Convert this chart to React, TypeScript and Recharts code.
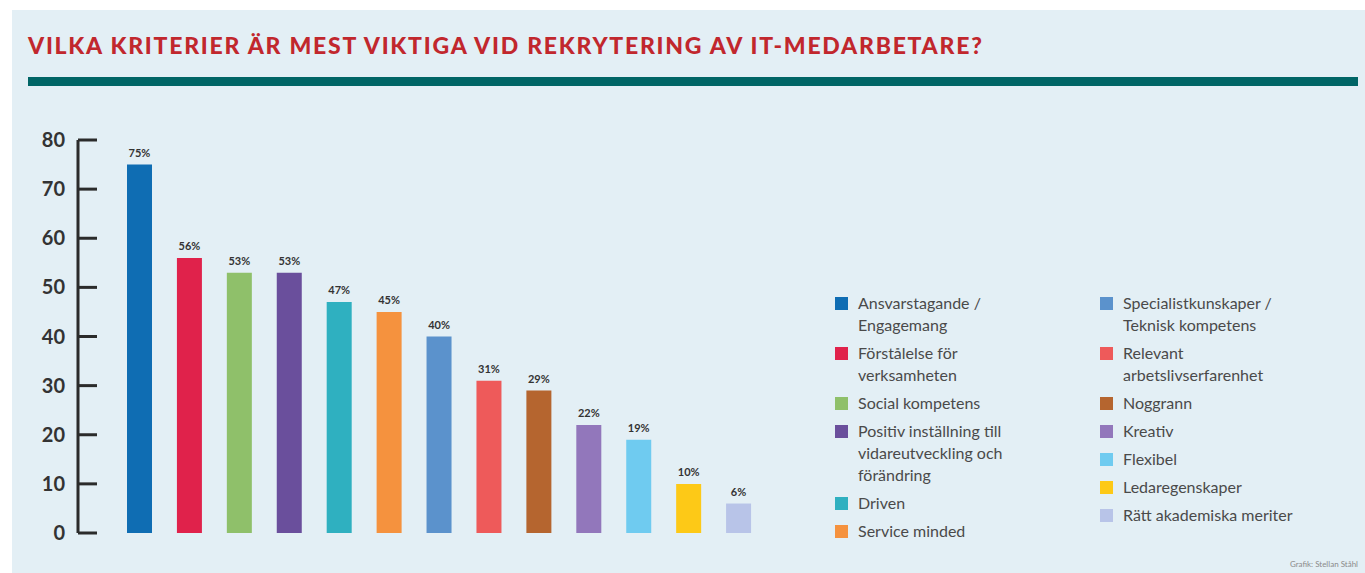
import { BarChart, Bar, XAxis, YAxis, Cell, LabelList } from "recharts";

const categories = [
  "Ansvarstagande / Engagemang",
  "Förstålelse för verksamheten",
  "Social kompetens",
  "Positiv inställning till vidareutveckling och förändring",
  "Driven",
  "Service minded",
  "Specialistkunskaper / Teknisk kompetens",
  "Relevant arbetslivserfarenhet",
  "Noggrann",
  "Kreativ",
  "Flexibel",
  "Ledaregenskaper",
  "Rätt akademiska meriter",
];
const values = [75, 56, 53, 53, 47, 45, 40, 31, 29, 22, 19, 10, 6];
const colors = [
  "#0f6db3",
  "#e0224b",
  "#8fc06a",
  "#6a4f9c",
  "#2fb0c0",
  "#f5923e",
  "#5b92cc",
  "#ee5a5a",
  "#b5652f",
  "#9277bb",
  "#6fcbf0",
  "#fdc917",
  "#b8c4e8",
];
const yTicks = [0, 10, 20, 30, 40, 50, 60, 70, 80];

// legend lines (wrapped like in the print graphic)
const legendLeft = [
  ["Ansvarstagande /", "Engagemang"],
  ["Förstålelse för", "verksamheten"],
  ["Social kompetens"],
  ["Positiv inställning till", "vidareutveckling och", "förändring"],
  ["Driven"],
  ["Service minded"],
];
const legendRight = [
  ["Specialistkunskaper /", "Teknisk kompetens"],
  ["Relevant", "arbetslivserfarenhet"],
  ["Noggrann"],
  ["Kreativ"],
  ["Flexibel"],
  ["Ledaregenskaper"],
  ["Rätt akademiska meriter"],
];

const data = categories.map((name, i) => ({ name, value: values[i] }));

const AXIS = "#2b2b2b";

const YTick = (props: any) => {
  const { x, y, payload } = props;
  return (
    <g>
      <line x1={x} x2={x + 19} y1={y} y2={y} stroke={AXIS} strokeWidth={3} />
      <text
        x={x - 13}
        y={y}
        dy={7}
        textAnchor="end"
        fill="#333"
        fontSize={20}
        fontWeight={700}
        fontFamily="Lato, sans-serif"
      >
        {payload.value}
      </text>
    </g>
  );
};

function LegendColumn({ items, offset, left }: { items: string[][]; offset: number; left: number }) {
  return (
    <div style={{ position: "absolute", left, top: 292 }}>
      {items.map((lines, i) => (
        <div key={i} style={{ display: "flex", marginBottom: 6 }}>
          <div
            style={{
              width: 13,
              height: 13,
              background: colors[offset + i],
              marginTop: 5,
              marginRight: 10,
              flex: "none",
            }}
          />
          <div style={{ lineHeight: "22px", fontSize: 16, color: "#4a4a4a" }}>
            {lines.map((l, j) => (
              <div key={j}>{l}</div>
            ))}
          </div>
        </div>
      ))}
    </div>
  );
}

export default function App() {
  return (
    <div
      style={{
        position: "absolute",
        left: 0,
        top: 0,
        width: 1365,
        height: 573,
        background: "#fff",
        overflow: "hidden",
        fontFamily: "Lato, sans-serif",
      }}
    >
      <div
        style={{
          position: "absolute",
          left: 12,
          top: 10,
          width: 1353,
          height: 563,
          background: "#e3eff5",
        }}
      />
      <div
        style={{
          position: "absolute",
          left: 28,
          top: 31,
          color: "#c1272d",
          fontSize: 23,
          fontWeight: 900,
          letterSpacing: 1.75,
          whiteSpace: "nowrap",
        }}
      >
        VILKA KRITERIER ÄR MEST VIKTIGA VID REKRYTERING AV IT-MEDARBETARE?
      </div>
      <div
        style={{
          position: "absolute",
          left: 28,
          top: 77,
          width: 1330,
          height: 9,
          background: "#006566",
        }}
      />
      <div style={{ position: "absolute", left: 0, top: 0 }}>
        <BarChart
          width={1365}
          height={573}
          data={data}
          margin={{ top: 140, right: 588, bottom: 40, left: 0 }}
        >
          <XAxis
            dataKey="name"
            height={0}
            padding={{ left: 37, right: 13 }}
            axisLine={{ stroke: AXIS, strokeWidth: 3 }}
            tickLine={false}
            tick={false}
          />
          <YAxis
            width={78}
            domain={[0, 80]}
            ticks={yTicks}
            tickSize={0}
            tickMargin={0}
            tickLine={false}
            axisLine={{ stroke: AXIS, strokeWidth: 3 }}
            tick={<YTick />}
            interval={0}
          />
          <Bar dataKey="value" barSize={25} isAnimationActive={false}>
            {data.map((_, i) => (
              <Cell key={i} fill={colors[i]} />
            ))}
            <LabelList
              dataKey="value"
              position="top"
              offset={8}
              formatter={(v: any) => `${v}%`}
              style={{ fontSize: 11, fontWeight: 700, fill: "#333", fontFamily: "Lato, sans-serif" }}
            />
          </Bar>
        </BarChart>
      </div>
      <LegendColumn items={legendLeft} offset={0} left={835} />
      <LegendColumn items={legendRight} offset={legendLeft.length} left={1100} />
      <div
        style={{
          position: "absolute",
          right: 7,
          top: 559,
          fontSize: 8,
          color: "#8a8a8a",
        }}
      >
        Grafik: Stellan Ståhl
      </div>
    </div>
  );
}
